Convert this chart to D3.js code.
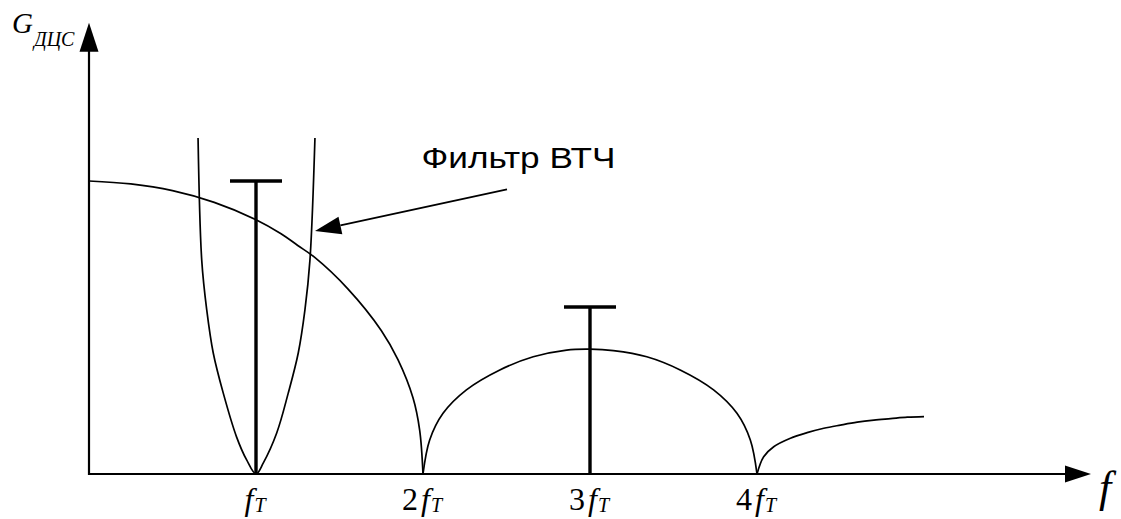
<!DOCTYPE html>
<html><head><meta charset="utf-8">
<script src="https://cdn.jsdelivr.net/npm/d3@7"></script>
<style>html,body{margin:0;padding:0;background:#fff;}</style>
</head><body>
<svg id="chart" width="1121" height="519"></svg>
<script>
// ---- data (f in units of f_T, G relative to main-lobe peak) ----
const tickPos = [1, 2, 3, 4];
const tickCoef = ["", "2", "3", "4"];
const mainF = [0, 0.25, 0.5, 0.75, 1.0, 1.15, 1.25, 1.35, 1.55, 1.75, 1.85, 1.94, 1.98, 2.0];
const mainG = [1.0, 0.99, 0.967, 0.927, 0.868, 0.82, 0.78, 0.74, 0.632, 0.49, 0.39, 0.26, 0.15, 0];
const lobe2F = [2.0, 2.04, 2.12, 2.26, 2.46, 2.66, 2.86, 3.0, 3.14, 3.34, 3.54, 3.74, 3.88, 3.96, 4.0];
const lobe2G = [0, 0.116, 0.207, 0.287, 0.355, 0.4, 0.423, 0.426, 0.421, 0.4, 0.355, 0.287, 0.207, 0.116, 0];
const lobe3F = [4.0, 4.04, 4.1, 4.2, 4.3, 4.4, 4.5, 4.6, 4.7, 4.8, 4.9, 5.0];
const lobe3G = [0, 0.059, 0.093, 0.122, 0.141, 0.156, 0.167, 0.177, 0.184, 0.189, 0.194, 0.196];
const filterF = [0.653, 0.675, 0.705, 0.744, 0.804, 0.884, 0.944, 1.0, 1.044, 1.124, 1.193, 1.253, 1.293, 1.323, 1.353];
const filterG = [1.147, 0.73, 0.56, 0.413, 0.276, 0.126, 0.048, 0, 0.038, 0.14, 0.276, 0.413, 0.56, 0.73, 1.147];
const stemF = [1, 3];
const stemG = [1.0, 0.57];
const fMax = 6, gMax = 1.54;
const filterLabel = "Фильтр ВТЧ";

// ---- scales ----
const svg = d3.select("#chart");
const x = d3.scaleLinear().domain([0, fMax]).range([89, 1091]);
const y = d3.scaleLinear().domain([0, 1]).range([474, 181]);

const zip = (a, b) => a.map((v, i) => [v, b[i]]);
const line = d3.line().x(d => x(d[0])).y(d => y(d[1])).curve(d3.curveCatmullRom.alpha(0.5));

// curves
[zip(mainF, mainG), zip(lobe2F, lobe2G), zip(lobe3F, lobe3G), zip(filterF, filterG)].forEach(pts => {
  svg.append("path").attr("d", line(pts)).attr("fill", "none")
    .attr("stroke", "#000").attr("stroke-width", 1.7);
});

// axes
svg.append("line").attr("x1", x(0)).attr("y1", y(0)).attr("x2", x(fMax) - 20).attr("y2", y(0))
  .attr("stroke", "#000").attr("stroke-width", 2.2);
svg.append("line").attr("x1", x(0)).attr("y1", y(0) + 1).attr("x2", x(0)).attr("y2", y(gMax) + 20)
  .attr("stroke", "#000").attr("stroke-width", 2.2);
// arrowheads
svg.append("path").attr("d", `M${x(fMax)},${y(0)} L${x(fMax) - 26},${y(0) - 8.5} L${x(fMax) - 26},${y(0) + 8.5} Z`).attr("fill", "#000");
svg.append("path").attr("d", `M${x(0)},${y(gMax)} L${x(0) - 9.5},${y(gMax) + 29} L${x(0) + 9.5},${y(gMax) + 29} Z`).attr("fill", "#000");

// stems with caps
stemF.forEach((f, i) => {
  svg.append("line").attr("x1", x(f)).attr("x2", x(f)).attr("y1", y(0)).attr("y2", y(stemG[i]))
    .attr("stroke", "#000").attr("stroke-width", 3.4);
  svg.append("line").attr("x1", x(f) - 26).attr("x2", x(f) + 26).attr("y1", y(stemG[i])).attr("y2", y(stemG[i]))
    .attr("stroke", "#000").attr("stroke-width", 3.4);
});

// tick labels
const serif = "'Liberation Serif','Times New Roman',serif";
tickPos.forEach((p, i) => {
  const t = svg.append("text").attr("x", x(p) - 1).attr("y", 510)
    .attr("text-anchor", "middle").attr("font-family", serif).attr("font-size", 32);
  if (tickCoef[i]) t.append("tspan").text(tickCoef[i]);
  t.append("tspan").attr("font-style", "italic").attr("dx", tickCoef[i] ? 3 : 0).text("f");
  t.append("tspan").attr("font-style", "italic").attr("font-size", 20).attr("dy", 2).attr("dx", 1).text("T");
});

// axis labels
svg.append("text").attr("x", 1099).attr("y", 502).attr("font-family", serif)
  .attr("font-style", "italic").attr("font-size", 44).text("f");
const gl = svg.append("text").attr("x", 12).attr("y", 33).attr("font-family", serif)
  .attr("font-style", "italic").attr("font-size", 29);
gl.append("tspan").text("G");
gl.append("tspan").attr("font-size", 20).attr("dy", 13).attr("dx", 1).text("ДЦС");

// annotation
svg.append("text").attr("x", 421.5).attr("y", 168.3)
  .attr("font-family", "'Liberation Sans',Arial,sans-serif").attr("font-size", 29)
  .attr("textLength", 194).attr("lengthAdjust", "spacingAndGlyphs")
  .text(filterLabel);
const ax1 = 507, ay1 = 189.3, ax2 = 315, ay2 = 231;
const ang = Math.atan2(ay2 - ay1, ax2 - ax1);
const L = 26, W = 9;
const bx = ax2 - L * Math.cos(ang), by = ay2 - L * Math.sin(ang);
svg.append("line").attr("x1", ax1).attr("y1", ay1).attr("x2", bx).attr("y2", by)
  .attr("stroke", "#000").attr("stroke-width", 1.8);
svg.append("path").attr("d",
  `M${ax2},${ay2} L${bx + W * Math.sin(ang)},${by - W * Math.cos(ang)} L${bx - W * Math.sin(ang)},${by + W * Math.cos(ang)} Z`)
  .attr("fill", "#000");
</script>
</body></html>
